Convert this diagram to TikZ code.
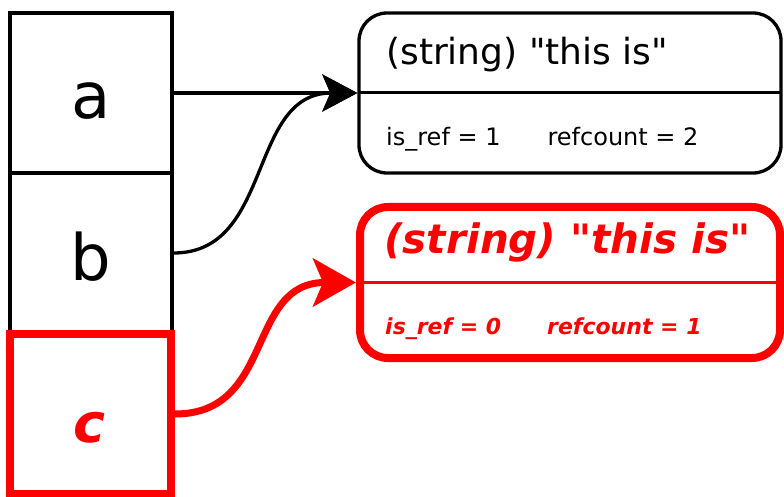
\documentclass[tikz,border=0pt]{standalone}
\usepackage{fontspec}
\setmainfont{DejaVu Sans}
\usetikzlibrary{arrows.meta}
\begin{document}
\begin{tikzpicture}[x=1pt,y=-1pt,
  cell/.style={draw=black,line width=3.3pt,minimum width=162pt,minimum height=160pt,inner sep=0pt},
  cellred/.style={draw=red,line width=8pt,minimum width=161pt,minimum height=160pt,inner sep=0pt},
  strbox/.style={draw=black,line width=3.3pt,rounded corners=28pt,minimum width=422pt,minimum height=160pt,inner sep=0pt},
  strboxred/.style={draw=red,line width=8pt,rounded corners=28pt,minimum width=420pt,minimum height=151pt,inner sep=0pt},
  txt/.style={inner sep=0pt,anchor=base west},
  letter/.style={inner sep=0pt,anchor=base,font=\fontsize{64}{70}\selectfont},
  blackarrow/.style={line width=3.3pt,-{Stealth[length=35pt,width=37pt,inset=8pt]}},
  redarrow/.style={draw=red,line width=7pt,-{Stealth[length=43pt,width=48pt,inset=10pt]}}
]
\useasboundingbox (0,0) rectangle (784,497);
% left column
\node[cell] (a) at (91,93) {};
\node[cell] (b) at (91,253) {};
\node[cellred] (c) at (90.5,414) {};
\node[letter] (la) at (91,119) {a};
\node[letter] (lb) at (91,280) {b};
\node[letter,text=red,font=\bfseries\itshape\fontsize{54}{60}\selectfont] (lc) at (90,442) {c};
% string boxes
\node[strbox] (s1) at (570,93) {};
\draw[line width=3pt,shorten <=1.5pt,shorten >=1.5pt] (s1.west) -- (s1.east);
\node[strboxred] (s2) at (570,282.5) {};
\draw[red,line width=3pt,shorten <=4pt,shorten >=4pt] (s2.west) -- (s2.east);
\node[txt,font=\fontsize{36}{40}\selectfont] (t1) at (386,65) {(string) \textquotedbl this is\textquotedbl};
\node[txt,font=\fontsize{24}{28}\selectfont] (t2) at (386,146) {is\_ref = 1\hspace{47pt}refcount = 2};
\node[txt,text=red,font=\bfseries\itshape\fontsize{40.5}{44}\selectfont] (t3) at (384,253) {(string) \textquotedbl this is\textquotedbl};
\node[txt,text=red,font=\bfseries\itshape\fontsize{22}{26}\selectfont] (t4) at (385,334) {is\_ref = 0\hspace{46pt}refcount = 1};
% connectors
\draw[blackarrow] (a.east) -- (s1.west);
\draw[blackarrow] (b.east) .. controls +(100,0) and +(-110,0) .. (s1.west);
\draw[redarrow] (c.east) .. controls +(100,0) and +(-110,0) .. (s2.west);
\end{tikzpicture}
\end{document}
